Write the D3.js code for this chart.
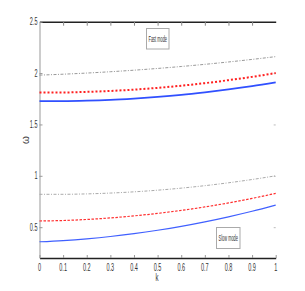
<!DOCTYPE html>
<html><head><meta charset="utf-8">
<script src="https://cdn.jsdelivr.net/npm/d3@7"></script>
<style>body{margin:0;background:#fff}svg{display:block}text{font-family:"Liberation Sans Narrow","Liberation Sans",Arial,sans-serif}</style>
</head><body><svg id="c" width="305" height="291"></svg>
<script>
const kValues = [0,0.1,0.2,0.3,0.4,0.5,0.6,0.7,0.8,0.9,1];
const fastSolid  = [1.727,1.727,1.731,1.739,1.752,1.768,1.788,1.813,1.841,1.873,1.910];
const fastDotted = [1.810,1.811,1.817,1.826,1.839,1.856,1.877,1.902,1.931,1.963,2.000];
const fastDashDot= [1.980,1.989,2.000,2.013,2.028,2.045,2.064,2.085,2.108,2.133,2.160];
const slowSolid  = [0.358,0.370,0.387,0.409,0.437,0.470,0.508,0.552,0.601,0.655,0.715];
const slowDotted = [0.560,0.565,0.575,0.590,0.610,0.634,0.663,0.697,0.736,0.780,0.829];
const slowDashDot= [0.820,0.820,0.824,0.832,0.844,0.860,0.880,0.904,0.932,0.964,1.000];
const xTicks = [0,0.1,0.2,0.3,0.4,0.5,0.6,0.7,0.8,0.9,1];
const xTickLabels = ["0","0.1","0.2","0.3","0.4","0.5","0.6","0.7","0.8","0.9","1"];
const yTicks = [0.5,1,1.5,2,2.5];
const yTickLabels = ["0.5","1","1.5","2","2.5"];

const svg = d3.select("#c");
const x = d3.scaleLinear().domain([0,1]).range([39.5,275.7]);
const y = d3.scaleLinear().domain([0.2,2.5]).range([258,21.7]);

// axes
const gx = svg.append("g").attr("transform","translate(0,258)")
  .call(d3.axisBottom(x).tickValues(xTicks).tickFormat("").tickSizeInner(-3).tickSizeOuter(0));
gx.select(".domain").attr("stroke","#222").attr("stroke-width",1.5);
gx.selectAll(".tick line").attr("stroke","#999");
svg.append("g").selectAll("text").data(xTicks).join("text")
  .attr("transform",d=>`translate(${x(d)},${271}) scale(0.55,1)`)
  .attr("text-anchor","middle").attr("font-size",10).attr("fill","#333")
  .text((d,i)=>xTickLabels[i]);

const gxt = svg.append("g").attr("transform","translate(0,21.7)")
  .call(d3.axisTop(x).tickValues(xTicks.slice(1,-1)).tickFormat("").tickSizeInner(-4).tickSizeOuter(0));
gxt.select(".domain").attr("stroke","#222").attr("stroke-width",1.5);
gxt.selectAll(".tick line").attr("stroke","#888");

const gy = svg.append("g").attr("transform","translate(39.5,0)")
  .call(d3.axisLeft(y).tickValues(yTicks).tickFormat("").tickSizeInner(-3).tickSizeOuter(0));
gy.select(".domain").attr("stroke","#999").attr("stroke-width",1);
gy.selectAll(".tick line").attr("stroke","#999");
svg.append("g").selectAll("text").data(yTicks).join("text")
  .attr("transform",d=>`translate(37.5,${y(d)+3.5}) scale(0.55,1)`)
  .attr("text-anchor","end").attr("font-size",10).attr("fill","#333")
  .text((d,i)=>yTickLabels[i]);

const gyr = svg.append("g").attr("transform","translate(275.7,0)")
  .call(d3.axisRight(y).tickValues(yTicks.slice(0,-1)).tickFormat("").tickSizeInner(-2).tickSizeOuter(0));
gyr.select(".domain").remove();
gyr.selectAll(".tick line").attr("stroke","#bbb");

// axis labels
svg.append("text").attr("transform","translate(157,281) scale(0.6,1)").attr("text-anchor","middle").attr("font-size",10).attr("fill","#333").text("k");
svg.append("text").attr("transform","translate(29,140) rotate(-90)").attr("text-anchor","middle").attr("font-size",10).attr("fill","#333").text("ω");

// lines
const line = d3.line().x((d,i)=>x(kValues[i])).y(d=>y(d)).curve(d3.curveMonotoneX);
const series = [
  {v:fastDashDot, c:"#999", w:1, dash:"3,1.5,1,1.5"},
  {v:fastDotted, c:"#ff2020", w:2, dash:"2,2"},
  {v:fastSolid, c:"#3050ff", w:1.8, dash:null},
  {v:slowDashDot, c:"#aaa", w:1, dash:"3,1.5,1,1.5"},
  {v:slowDotted, c:"#ff3030", w:1.2, dash:"2.5,1.5"},
  {v:slowSolid, c:"#4060ff", w:1.2, dash:null}
];
series.forEach(s=>{
  svg.append("path").datum(s.v).attr("d",line).attr("fill","none")
    .attr("stroke",s.c).attr("stroke-width",s.w).attr("stroke-dasharray",s.dash);
});

// annotation boxes
function box(x0,y0,w,h,t){
  svg.append("rect").attr("x",x0).attr("y",y0).attr("width",w).attr("height",h)
    .attr("fill","#fff").attr("stroke","#aaa").attr("stroke-width",1);
  svg.append("text").attr("x",x0+w/2).attr("y",y0+h/2+3).attr("text-anchor","middle")
    .attr("font-size",8.5).attr("fill","#333").attr("textLength",w-4).attr("lengthAdjust","spacingAndGlyphs").text(t);
}
box(146.5,28.5,22.5,20.5,"Fast mode");
box(216.5,227.5,23.5,21,"Slow mode");
</script></body></html>
